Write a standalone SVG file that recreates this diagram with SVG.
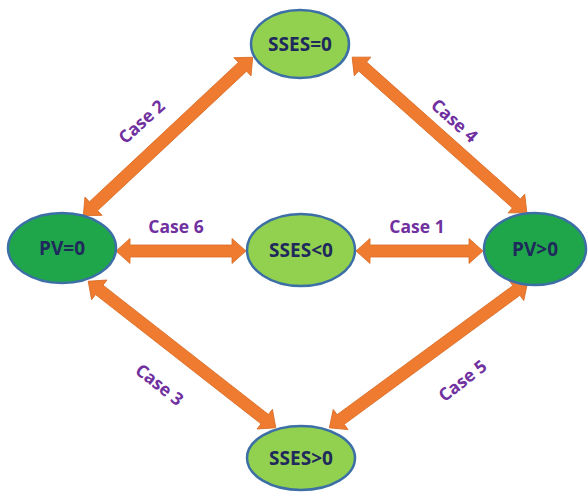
<svg xmlns="http://www.w3.org/2000/svg" width="588" height="493" viewBox="0 0 588 493">
<style>
.arr{fill:#EE7B30;stroke:#D96A22;stroke-width:0.8}
.dark{fill:#1FA64A;stroke:#3C6FA6;stroke-width:2.5}
.light{fill:#92D050;stroke:#3C6FA6;stroke-width:2.5}
.nt{font-family:"Open Sans","Liberation Sans",sans-serif;font-weight:bold;font-size:19px;fill:#1F2A5C;text-anchor:middle;dominant-baseline:central}
.lb{font-family:"Open Sans","Liberation Sans",sans-serif;font-weight:bold;font-size:17.5px;fill:#7030A0;text-anchor:middle;dominant-baseline:central}
</style>
<rect width="588" height="493" fill="#fff"/>
<g id="connectors">
<g transform="translate(181,251)"><polygon class="arr" points="-65,0 -51,-12.5 -51,-6 51,-6 51,-12.5 65,0 51,12.5 51,6 -51,6 -51,12.5"/></g>
<g transform="translate(419.5,251)"><polygon class="arr" points="-63.5,0 -49.5,-12.5 -49.5,-6 49.5,-6 49.5,-12.5 63.5,0 49.5,12.5 49.5,6 -49.5,6 -49.5,12.5"/></g>
<g transform="translate(168,136.5) rotate(-43.1)"><polygon class="arr" points="-116,0 -102,-12.5 -102,-6 102,-6 102,-12.5 116,0 102,12.5 102,6 -102,6 -102,12.5"/></g>
<g transform="translate(439.5,135) rotate(41.7)"><polygon class="arr" points="-117,0 -103,-12.5 -103,-6 103,-6 103,-12.5 117,0 103,12.5 103,6 -103,6 -103,12.5"/></g>
<g transform="translate(182,354.5) rotate(38)"><polygon class="arr" points="-119,0 -105,-12.5 -105,-6 105,-6 105,-12.5 119,0 105,12.5 105,6 -105,6 -105,12.5"/></g>
<g transform="translate(428.5,355) rotate(-36.3)"><polygon class="arr" points="-123,0 -109,-12.5 -109,-6 109,-6 109,-12.5 123,0 109,12.5 109,6 -109,6 -109,12.5"/></g>
<text class="lb" x="176" y="226">Case 6</text>
<text class="lb" x="417" y="226">Case 1</text>
<text class="lb" transform="translate(141,121) rotate(-42)">Case 2</text>
<text class="lb" transform="translate(455,120) rotate(42)">Case 4</text>
<text class="lb" transform="translate(160,384) rotate(38)">Case 3</text>
<text class="lb" transform="translate(462,380) rotate(-38)">Case 5</text>
</g>
<g id="sses0"><ellipse class="light" cx="300" cy="44" rx="49" ry="34"/><text class="nt" x="300" y="44">SSES=0</text></g>
<g id="pv0"><ellipse class="dark" cx="62" cy="248" rx="54" ry="35"/><text class="nt" x="62" y="248">PV=0</text></g>
<g id="sseslt0"><ellipse class="light" cx="301" cy="250" rx="54" ry="36"/><text class="nt" x="301" y="250">SSES&lt;0</text></g>
<g id="pvgt0"><ellipse class="dark" cx="535" cy="249" rx="51" ry="36"/><text class="nt" x="535" y="249">PV&gt;0</text></g>
<g id="ssesgt0"><ellipse class="light" cx="301" cy="458" rx="54" ry="32"/><text class="nt" x="301" y="458">SSES&gt;0</text></g>
</svg>
